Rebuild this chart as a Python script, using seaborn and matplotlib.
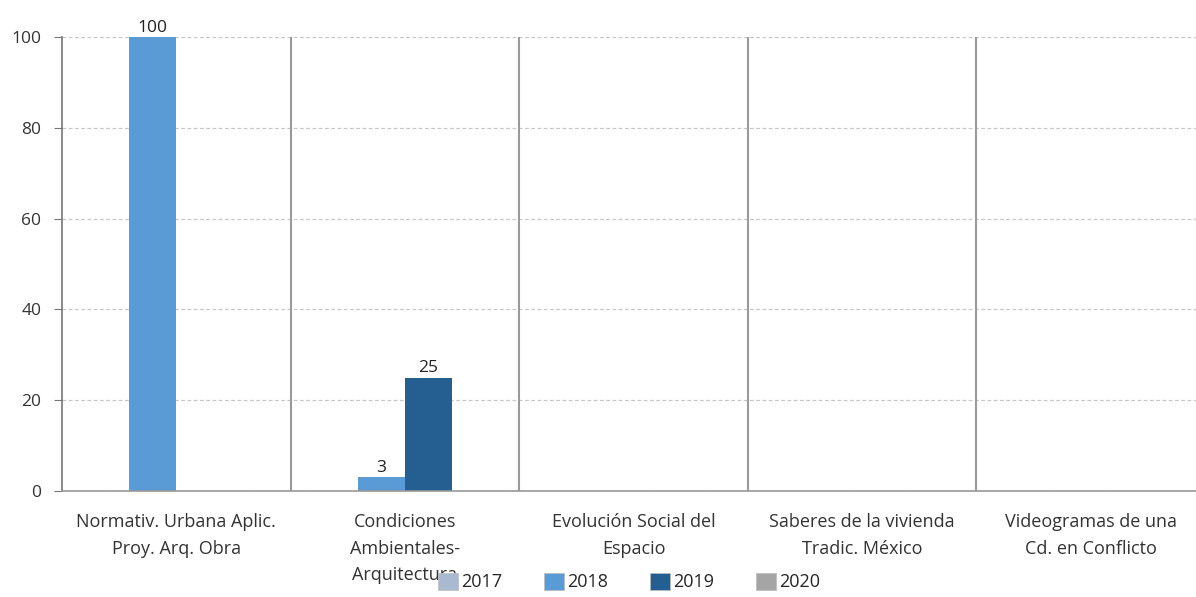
import numpy as np
import pandas as pd
import seaborn as sns
import matplotlib.pyplot as plt

categories = ["Normativ. Urbana Aplic.\nProy. Arq. Obra",
              "Condiciones\nAmbientales-\nArquitectura",
              "Evolución Social del\nEspacio",
              "Saberes de la vivienda\nTradic. México",
              "Videogramas de una\nCd. en Conflicto"]
years = ["2017", "2018", "2019", "2020"]
v2017 = [0, 0, 0, 0, 0]
v2018 = [100, 3, 0, 0, 0]
v2019 = [0, 25, 0, 0, 0]
v2020 = [0, 0, 0, 0, 0]
colors = ["#a9b9d0", "#5b9bd5", "#255e91", "#a5a5a5"]

rows = []
for yr, vals in zip(years, [v2017, v2018, v2019, v2020]):
    for c, v in zip(categories, vals):
        rows.append({"cat": c, "year": yr, "val": v})
df = pd.DataFrame(rows)

sns.set_style("white")
plt.rcParams['font.family'] = ['Open Sans', 'DejaVu Sans']

fig = plt.figure(figsize=(11.96, 5.97), dpi=100)
ax = fig.add_axes([62/1196, 106/597, 1143/1196, 454/597])

sns.barplot(data=df, x="cat", y="val", hue="year", palette=colors,
            width=0.82, linewidth=0, saturation=1, ax=ax, legend=True)

# only label the bars that have a value
for cont in ax.containers:
    labels = [f"{b.get_height():.0f}" if b.get_height() > 0 else "" for b in cont]
    ax.bar_label(cont, labels=labels, padding=1, fontsize=12.5, color="#222222")

ax.set_ylim(0, 100)
ax.set_xlim(-0.5, 4.5)
ax.set_yticks([0, 20, 40, 60, 80, 100])
ax.yaxis.grid(True, linestyle=(0, (3, 2)), color="#c8c8c8", linewidth=0.9)
ax.set_axisbelow(True)
for x in [0.5, 1.5, 2.5, 3.5]:
    ax.axvline(x, color="#9a9a9a", linewidth=1.5)

for s in ["top", "right"]:
    ax.spines[s].set_visible(False)
ax.spines["left"].set_color("#777777")
ax.spines["bottom"].set_color("#999999")
ax.spines["left"].set_linewidth(1.2)
ax.spines["bottom"].set_linewidth(1.2)

ax.tick_params(axis="y", length=6, pad=9, color="#777777", labelsize=12.5, labelcolor="#333333", left=True)
ax.tick_params(axis="x", length=0, pad=16, labelsize=13, labelcolor="#333333")
for t in ax.get_xticklabels():
    t.set_linespacing(1.6)
ax.set_xlabel("")
ax.set_ylabel("")

ax.legend_.remove()
handles = [plt.Rectangle((0, 0), 1, 1, facecolor=c, edgecolor="#bbbbbb", linewidth=0.5) for c in colors]
fig.legend(handles, years, loc="center", bbox_to_anchor=(0.526, 15/597),
           ncol=4, frameon=False, fontsize=13, handlelength=1.1, handleheight=1.1,
           handletextpad=0.2, columnspacing=2.3, borderaxespad=0)

fig.savefig("out.png", dpi=100)
